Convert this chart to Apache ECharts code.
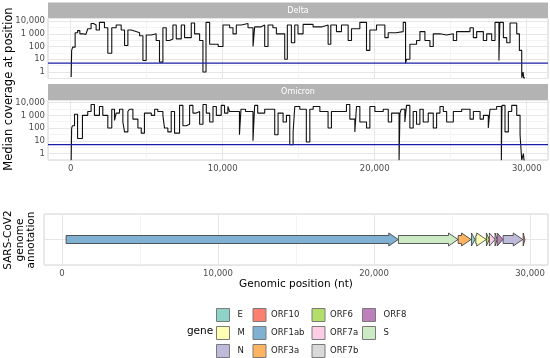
<!DOCTYPE html>
<html><head><meta charset="utf-8">
<script src="https://cdn.jsdelivr.net/npm/echarts@6/dist/echarts.min.js"></script>
<style>html,body{margin:0;padding:0;background:#fff}#c{width:550px;height:358px}</style>
</head><body><div id="c"></div>
<script>
// ---- data ----
const deltaPos = [30,60,130,290,450,600,800,1000,1120,1340,1500,1670,1890,2220,2440,2700,2990,3320,3540,3760,3980,4300,4530,4750,4965,5300,5620,5840,6063,6283,6502,6722,6942,7271,7490,7930,8149,8479,8698,8900,9138,9700,10016,10455,10675,10894,11224,11663,11992,12102,12500,12761,12980,13300,13530,14078,14250,14517,14737,14950,15286,15945,16494,16933,17109,17482,17811,18251,18470,19019,19458,19678,20117,20666,20886,21400,21874,22028,22094,22313,22752,22972,23301,23631,23850,24290,24729,25168,25388,26266,26486,26705,27144,27364,27693,27913,28170,28230,28462,28682,28901,29340,29516,29670,29760,29800,29880];
const deltaCov = [0.4,50,90,1200,1800,1000,900,1100,2500,6500,5000,2000,8000,3000,30,3000,5000,2000,120,2000,1500,1200,700,8,800,1000,300,6,3000,300,400,5000,400,5000,500,7000,1000,300,1,8000,150,100,5000,3000,1000,5000,6500,3000,100,3500,5000,100,5000,3000,1000,10,5000,200,5000,1000,5500,3500,5000,150,5000,1500,5000,300,2500,8000,50,2000,5000,500,1200,1500,8000,5,10,150,300,1500,300,100,1000,800,1000,300,1500,3000,500,1500,300,1000,300,8000,8,8000,500,200,7000,1000,50,0.35,1,0.35,0.35];
const omicronPos = [30,60,110,250,450,770,1120,1340,1560,1890,2110,2440,2700,2880,2990,3210,3430,3540,3760,3870,4090,4420,4640,4850,5300,5520,5730,6063,6170,6390,6610,6830,7160,7380,7600,7820,8040,8260,8480,8700,8920,9140,9360,9580,9900,10120,10340,10450,11100,11200,11500,11990,12100,12300,12760,13420,13640,13970,14190,14410,14630,14740,15070,15500,15730,15950,16390,16930,17150,18140,18360,18690,18800,19020,19460,19680,20010,20560,20890,21110,21600,21660,21750,21980,22090,22310,22530,22750,22970,23190,23520,23850,24070,24290,24510,24730,25170,25720,26270,26490,26930,27150,27470,27580,28020,28330,28370,28570,28790,29010,29340,29560,29670,29780,29820,29880];
const omicronCov = [0.3,100,150,1200,15,1000,2000,7000,1000,5000,1000,100,3000,400,1500,3000,300,50,2000,3000,500,100,40,1500,1000,3000,2000,1000,100,50,2000,40,6000,150,200,6000,1500,2000,200,7000,1500,300,5000,1000,6000,1500,5000,2000,30,3000,2000,10,6000,1500,3000,30,1500,300,1000,5,50,5000,3000,8,3000,5000,2000,100,2000,7000,500,50,5000,300,100,5000,2000,3000,300,1500,0.3,1500,3000,300,6000,100,2000,200,3000,300,1500,100,1500,5000,2000,300,2000,3000,500,2000,500,1000,100,3000,5000,0.3,6000,50,2000,6000,1000,30,0.3,1,0.3,0.3];
const coverageThreshold = 5;
const coverageXDomain = [-1495, 31398];
const annotationXDomain = [-1150, 31150];
const yTickValues = [1, 10, 100, 1000, 10000];
const yTickLabels = ['1', '10', '100', '1 000', '10,000'];
const xMinorGrid = [5000, 15000, 25000];
const geneNames = ['ORF1ab','S','ORF3a','E','M','ORF6','ORF7a','ORF7b','ORF8','N','ORF10'];
const geneStart = [266,21563,25393,26245,26523,27202,27394,27756,27894,28274,29558];
const geneEnd   = [21555,25384,26220,26472,27191,27387,27759,27887,28259,29533,29674];
const legendCols = [['E','M','N'],['ORF10','ORF1ab','ORF3a'],['ORF6','ORF7a','ORF7b'],['ORF8','S']];
const panelNames = ['Delta', 'Omicron'];
// ---- styles ----
const geneColor = {E:'#8DD3C7',M:'#FFFFB3',N:'#BEBADA',ORF10:'#FB8072',ORF1ab:'#80B1D3',ORF3a:'#FDB462',ORF6:'#B3DE69',ORF7a:'#FCCDE5',ORF7b:'#D9D9D9',ORF8:'#BC80BD',S:'#CCEBC5'};
const FONT = 'DejaVu Sans';
const tickColor = '#4D4D4D';
const gridMajor = '#E6E6E6';
const gridMinor = '#F1F1F1';
const borderCol = '#D2D2D2';
const threshColor = '#1C1CA8';
const noLine = {show: false, onZero: false, lineStyle: {color: 'rgba(0,0,0,0)', width: 0}};

const chart = echarts.init(document.getElementById('c'), null, {renderer: 'canvas'});

function yFmt(v) {
  const k = Math.round(Math.log10(v));
  const i = yTickValues.findIndex(t => Math.round(Math.log10(t)) === k);
  return i >= 0 ? yTickLabels[i] : '';
}
const yMinor = yTickValues.slice(0, -1).map(t => t * Math.sqrt(10));

const grids = [
  {left: 48, top: 18.5, width: 500, height: 60},
  {left: 48, top: 100, width: 500, height: 60},
  {left: 44, top: 214, width: 504, height: 51}
].map(g => Object.assign({show: true, borderColor: borderCol, borderWidth: 1}, g));

const xAxisBase = (gi, showLabels, dom) => ({
  type: 'value', gridIndex: gi, min: dom[0], max: dom[1], splitNumber: 3,
  axisLine: noLine, axisTick: {show: false},
  splitLine: {show: true, lineStyle: {color: gridMajor, width: 1}},
  axisLabel: {show: showLabels, showMinLabel: false, showMaxLabel: false, color: tickColor, fontFamily: FONT, fontSize: 8.5, margin: 4,
    formatter: v => v.toLocaleString('en-US')}
});
const yLog = gi => ({
  type: 'log', logBase: 10, gridIndex: gi, min: 0.31, max: 16000,
  axisLine: noLine, axisTick: {show: false},
  splitLine: {show: true, lineStyle: {color: gridMajor, width: 1}},
  axisLabel: {showMinLabel: false, showMaxLabel: false, color: tickColor, fontFamily: FONT, fontSize: 8.5, margin: 3, formatter: yFmt}
});

const minorLine = () => ({color: gridMinor, width: 0.8, type: 'solid'});
const series = [];
[[deltaPos, deltaCov], [omicronPos, omicronCov]].forEach(([pos, cov], gi) => {
  series.push({
    name: panelNames[gi],
    type: 'line', step: 'end', xAxisIndex: gi, yAxisIndex: gi, z: 3,
    data: pos.map((p, i) => [p, cov[i]]), showSymbol: false, symbol: 'none', animation: false,
    lineStyle: {color: '#111', width: 1.1},
    markLine: {silent: true, symbol: 'none', label: {show: false}, animation: false, z: 1,
      data: xMinorGrid.map(v => ({xAxis: v, lineStyle: minorLine()}))
        .concat(yMinor.map(v => ({yAxis: v, lineStyle: minorLine()})))}
  });
  series.push({
    name: panelNames[gi] + ' threshold',
    type: 'line', xAxisIndex: gi, yAxisIndex: gi, z: 4, silent: true, animation: false,
    showSymbol: false, symbol: 'none',
    data: coverageXDomain.map(x => [x, coverageThreshold]),
    lineStyle: {color: threshColor, width: 1.2}
  });
});
geneNames.forEach((g, i) => {
  const s = {
    name: g, type: 'custom', xAxisIndex: 2, yAxisIndex: 2, z: 3, animation: false,
    itemStyle: {color: geneColor[g], borderColor: '#333', borderWidth: 0.8},
    data: [[geneStart[i], geneEnd[i], 1]],
    encode: {x: [0, 1], y: 2},
    renderItem: (params, api) => {
      const a = api.coord([api.value(0), api.value(2)]);
      const b = api.coord([api.value(1), api.value(2)]);
      const bodyH = 4, headH = 6.5;
      const headL = Math.min(9.5, b[0] - a[0]);
      const xb = b[0] - headL;
      const y = a[1];
      const pts = [[a[0], y - bodyH], [xb, y - bodyH], [xb, y - headH], [b[0], y], [xb, y + headH], [xb, y + bodyH], [a[0], y + bodyH]];
      return {type: 'polygon', z2: 10, shape: {points: pts}, style: {fill: api.visual('color'), stroke: '#333', lineWidth: 0.8}};
    }
  };
  if (i === 0) {
    s.markLine = {silent: true, symbol: 'none', label: {show: false}, animation: false, z: 1,
      data: xMinorGrid.map(v => ({xAxis: v, lineStyle: minorLine()}))};
  }
  series.push(s);
});

const legendLefts = [216, 252.5, 311.5, 362];
const legends = legendCols.map((col, i) => ({
  data: col, orient: 'vertical', left: legendLefts[i], top: 308, height: 50, padding: 0,
  itemWidth: 13, itemHeight: 13, itemGap: 4,
  icon: 'rect', selectedMode: false,
  itemStyle: {borderColor: '#7A7A7A', borderWidth: 1},
  textStyle: {fontFamily: FONT, fontSize: 8.5, color: '#1A1A1A', padding: [0, 0, 0, (i === 0 || i === 3) ? 3 : 0]}
}));

const strips = [];
panelNames.forEach((name, i) => {
  const g = grids[i];
  strips.push({type: 'rect', shape: {x: g.left, y: g.top - 16, width: g.width, height: 16}, style: {fill: '#B3B3B3'}, silent: true});
  strips.push({type: 'text', x: g.left + g.width / 2, y: g.top - 8, silent: true,
    style: {text: name, fill: '#fff', font: '8px "DejaVu Sans"', textAlign: 'center', textVerticalAlign: 'middle'}});
});

chart.setOption({
  animation: false,
  backgroundColor: '#fff',
  grid: grids,
  xAxis: [
    xAxisBase(0, false, coverageXDomain),
    xAxisBase(1, true, coverageXDomain),
    Object.assign(xAxisBase(2, true, annotationXDomain), {
      name: 'Genomic position (nt)', nameLocation: 'middle', nameGap: 14,
      nameTextStyle: {fontFamily: FONT, fontSize: 10.5, color: '#000'}
    })
  ],
  yAxis: [
    yLog(0), yLog(1),
    {type: 'value', gridIndex: 2, min: 0, max: 2, interval: 1,
      axisLine: noLine, axisTick: {show: false}, axisLabel: {show: false},
      splitLine: {show: true, lineStyle: {color: gridMajor, width: 1}}}
  ],
  legend: legends,
  series: series,
  graphic: strips.concat([
    {type: 'text', x: 9, y: 89, rotation: Math.PI / 2, silent: true,
      style: {text: 'Median coverage at position', fill: '#000', font: '11.5px "DejaVu Sans"', textAlign: 'center', textVerticalAlign: 'middle'}},
    {type: 'text', x: 20, y: 240, rotation: Math.PI / 2, silent: true,
      style: {text: 'SARS-CoV2\ngenome\nannotation', fill: '#000', font: '10.5px "DejaVu Sans"', textAlign: 'center', textVerticalAlign: 'middle', lineHeight: 11.5}},
    {type: 'text', x: 200, y: 331.5, silent: true,
      style: {text: 'gene', fill: '#000', font: '10.5px "DejaVu Sans"', textAlign: 'center', textVerticalAlign: 'middle'}}
  ])
});
</script>
</body></html>
